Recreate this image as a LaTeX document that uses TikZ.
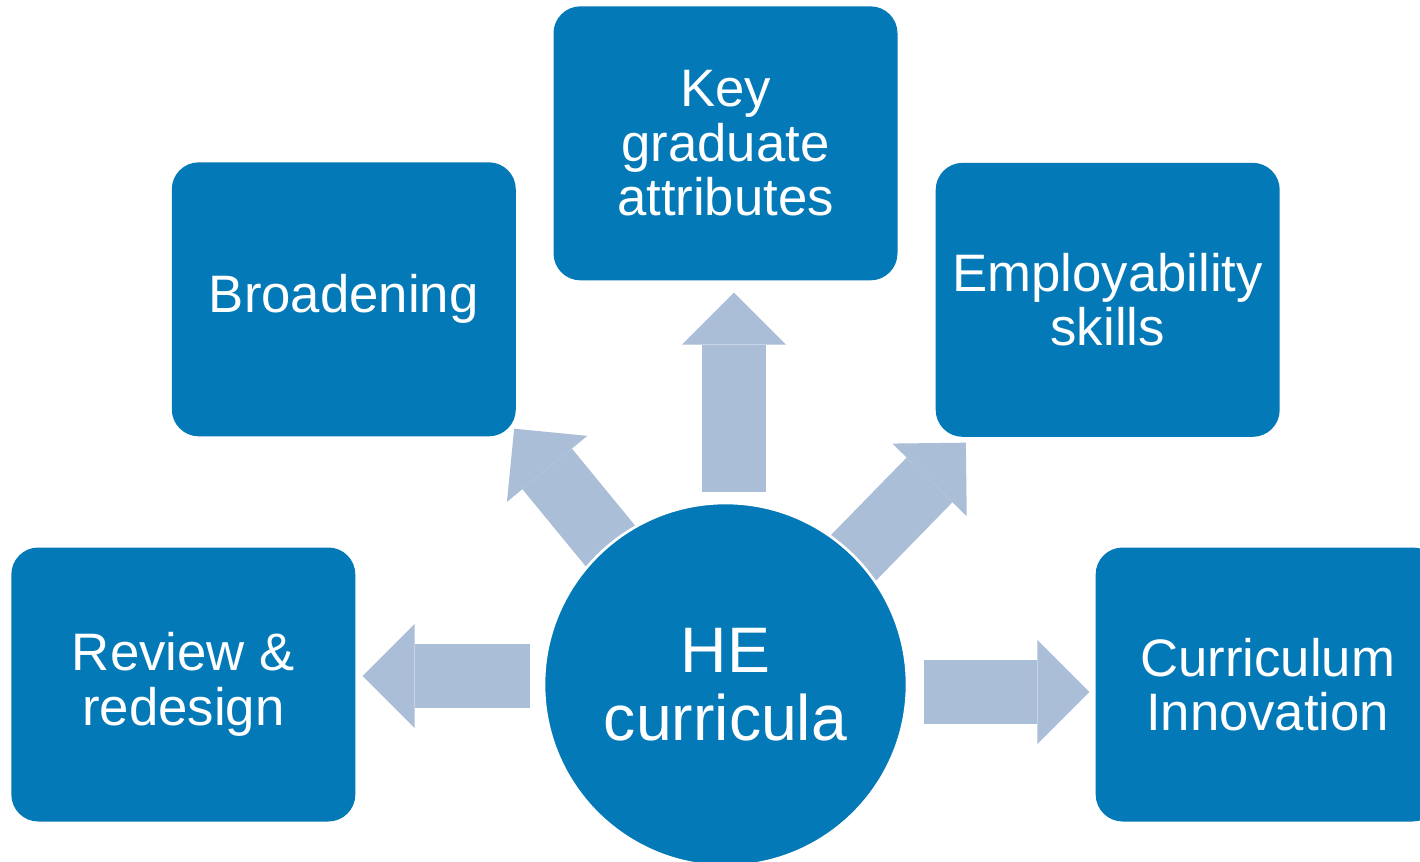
\documentclass[tikz,border=0pt]{standalone}
\usepackage{fontspec}
\setmainfont{Liberation Sans}
\usetikzlibrary{positioning, arrows.meta, backgrounds}

\definecolor{boxblue}{RGB}{4,121,183}
\definecolor{arrowblue}{RGB}{171,190,216}

\begin{document}
\begin{tikzpicture}[
        node distance = 44.2mm and 37.4mm,
        box/.style = {rectangle, rounded corners=5.4mm, fill=#1, text=white,
                    minimum width=68.8mm, minimum height=54.8mm, align=center,
                    font=\fontsize{30}{31}\selectfont},
        hub/.style = {circle, fill=#1, draw=white, line width=1.5pt, text=white,
                    minimum size=72.6mm, align=center,
                    font=\fontsize{36.6}{38.5}\selectfont},
        fat/.style = {draw=#1, line width=12.8mm,
                    -{Triangle[width=20.8mm, length=10.4mm, line width=0pt]}}
                    ]
        \useasboundingbox (0,0) rectangle (28.4,17.22);
        \node (he) [hub=boxblue] at (14.51,3.53) {HE\\curricula};
        \node (key) [box=boxblue, above=of he] {Key\\graduate\\attributes};
        \node (review) [box=boxblue, left=of he] {Review \&\\redesign};
        \node (innov) [box=boxblue, right=of he] {Curriculum\\Innovation};
        \node (broad) [box=boxblue, left=7.4mm of key, yshift=-31.2mm] {Broadening};
        \node (employ) [box=boxblue, right=7.5mm of key, yshift=-31.3mm] {Employability\\skills};
        %
        \begin{scope}[on background layer]
        \fill[white] (0,0) rectangle (28.4,17.22);
        \draw[fat=arrowblue] ([shift={(0.17,0.2)}]he.north) to ([shift={(0.17,-0.24)}]key.south);
        \draw[fat=arrowblue] ([shift={(-0.26,0.17)}]he.west) to ([shift={(0.14,0.17)}]review.east);
        \draw[fat=arrowblue] ([shift={(0.32,-0.15)}]he.east) to ([shift={(-0.12,-0.15)}]innov.west);
        \draw[fat=arrowblue] ([shift={(0.13,-0.33)}]he.128.7) to ([shift={(-0.04,0.16)}]broad.south east);
        \draw[fat=arrowblue] ([shift={(-0.21,-0.24)}]he.45) to ([shift={(0.61,-0.11)}]employ.south west);
        \end{scope}
    \end{tikzpicture}
\end{document}
